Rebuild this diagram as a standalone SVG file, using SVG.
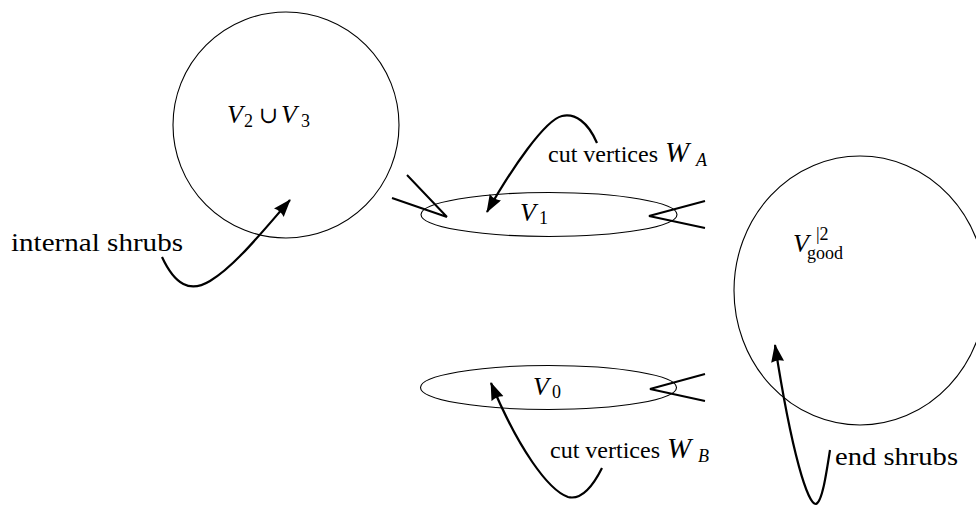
<svg xmlns="http://www.w3.org/2000/svg" width="976" height="508" viewBox="0 0 976 508" font-family="'Liberation Serif', 'DejaVu Serif', 'Times New Roman', serif">
<style>
.bg{fill:#fff}
.set{fill:none;stroke:#000;stroke-width:1.1}
.edge{fill:none;stroke:#000;stroke-width:2}
.arr{fill:none;stroke:#000;stroke-width:2.2;marker-end:url(#ah)}
text{font-family:'Liberation Serif','DejaVu Serif','Times New Roman',serif;fill:#000}
.t{font-size:26px;font-style:normal}
.c{font-size:23px;font-style:normal}
.m{font-size:26px;font-style:italic}
.w{font-size:29px;font-style:italic}
.s{font-size:18px;font-style:normal}
.si{font-size:18px;font-style:italic}
</style>
<defs>
<marker id="ah" markerUnits="userSpaceOnUse" markerWidth="20" markerHeight="14" refX="17" refY="6.5" orient="auto">
<path d="M0,0 L18,6.5 L0,13 Q3,6.5 0,0 z" fill="#000"/>
</marker>
</defs>
<rect class="bg" x="0" y="0" width="976" height="508"/>

<g id="node-V2V3">
<circle class="set" cx="286" cy="125" r="113"/>
<text class="m" x="227" y="123">V</text>
<text class="s" x="244" y="127">2</text>
<text class="t" x="259" y="123" style="font-size:23px">∪</text>
<text class="m" x="281" y="123">V</text>
<text class="s" x="301" y="127">3</text>
</g>

<g id="node-V1">
<ellipse class="set" cx="549" cy="214.5" rx="128" ry="22"/>
<text class="m" x="520" y="221">V</text>
<text class="s" x="539" y="224">1</text>
</g>

<g id="node-V0">
<ellipse class="set" cx="548.5" cy="387.5" rx="128" ry="22"/>
<text class="m" x="533" y="395">V</text>
<text class="s" x="552" y="398">0</text>
</g>

<g id="node-Vgood">
<ellipse class="set" cx="860" cy="290.5" rx="126" ry="134.5"/>
<text class="m" x="793" y="252">V</text>
<text class="s" x="816" y="240">|2</text>
<text class="s" x="807" y="259">good</text>
</g>

<g id="connectors">
<path class="edge" d="M392,198 L447,217 M407,175 L447,217"/>
<path class="edge" d="M705,201 L649,216 L705,228"/>
<path class="edge" d="M705,374 L650,389 L705,401"/>
<path class="arr" d="M162,257 C175,285 190,293 210,281 C235,266 262,232 290,200"/>
<path class="arr" d="M597,143 C588,122 575,113 562,116 C545,120 512,168 487,212"/>
<path class="arr" d="M602,468 C592,488 580,500 568,497 C548,490 518,448 491,383"/>
<path class="arr" d="M830,450 C826,476 822,502 816,504 C808,505 792,455 775,345"/>
</g>

<g id="labels">
<text class="t" x="11" y="251" textLength="172" lengthAdjust="spacingAndGlyphs">internal shrubs</text>
<text class="c" x="548" y="162" textLength="110" lengthAdjust="spacingAndGlyphs">cut vertices</text>
<text class="w" x="665" y="162">W</text>
<text class="si" x="696" y="166">A</text>
<text class="c" x="550" y="458" textLength="110" lengthAdjust="spacingAndGlyphs">cut vertices</text>
<text class="w" x="667" y="458">W</text>
<text class="si" x="698" y="462">B</text>
<text class="t" x="835" y="465" textLength="123" lengthAdjust="spacingAndGlyphs">end shrubs</text>
</g>
</svg>
